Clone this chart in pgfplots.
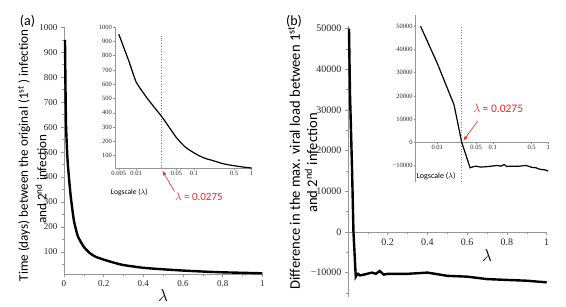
\documentclass[border=0pt]{standalone}
\usepackage{pgfplots}
\pgfplotsset{compat=1.18}
\usepackage{fontspec}
\setmainfont{Liberation Serif}
\newfontfamily\carlito{Carlito}
\definecolor{axgray}{RGB}{150,150,150}
\definecolor{lamred}{RGB}{228,40,40}
\definecolor{dotred}{RGB}{238,90,90}
\pgfplotsset{
  mapleaxis/.style={
    scale only axis,
    anchor=south west,
    clip=false,
    axis line style={axgray, line width=0.7pt},
    every tick/.style={axgray, line width=0.5pt},
    major tick length=3pt,
    minor tick length=1.8pt,
    tick align=outside,
    /pgf/number format/assume math mode=true,
    scaled ticks=false,
    tick label style={text=black!85},
  },
}
\pgfplotstableread{
x y
0.005 950
0.0075 760
0.01 615
0.015 510
0.02 445
0.0275 375
0.035 315
0.05 225
0.07 162
0.1 120
0.13 95
0.16 80
0.2 69
0.25 57
0.3 47
0.4 36
0.5 30
0.6 25
0.7 21
0.8 18
0.9 16
1 14
}\dataA
\pgfplotstableread{
x y
0.005 50000
0.01 34000
0.02 16200
0.0275 0
0.039 -11000
0.045 -10500
0.05 -10300
0.06 -10700
0.08 -10500
0.12 -10000
0.14 -10300
0.16 -9600
0.18 -10500
0.2 -10300
0.3 -10300
0.4 -10000
0.5 -10800
0.6 -11000
0.7 -11600
0.8 -11800
0.9 -12000
1 -12400
}\dataB
\begin{document}
\begin{tikzpicture}
\path[use as bounding box] (0pt,0pt) rectangle (566pt,306pt);
% ---------------- panel (a) main
\begin{axis}[mapleaxis, at={(64pt,31.7pt)}, width=198.3pt, height=247pt,
  xmin=0, xmax=1, ymin=10, ymax=1000,
  axis x line*=bottom, axis y line*=left,
  xtick={0,0.2,0.4,0.6,0.8,1}, xticklabels={0,0.2,0.4,0.6,0.8,1},
  minor xtick={0.1,0.3,0.5,0.7,0.9},
  ytick={100,200,...,1000}, yticklabels={100,200,300,400,500,600,700,800,900,1000},
  minor ytick={50,150,...,950},
  tick label style={font=\fontsize{9}{9}\selectfont},
]
\addplot[black, line width=2.4pt, smooth, tension=0.3] table[x=x,y=y] {\dataA};
\node[font=\fontsize{16}{16}\selectfont] at (axis cs:0.5,-75) {$\lambda$};
\end{axis}
% ---------------- panel (a) inset
\begin{axis}[mapleaxis, at={(115pt,138pt)}, width=136.7pt, height=141pt,
  xmode=log, xmin=0.0043, xmax=1, ymin=14, ymax=1000,
  axis x line*=bottom, axis y line*=left,
  major tick length=2pt,
  xtick={0.005,0.01,0.05,0.1,0.5,1}, xticklabels={0.005,0.01,0.05,0.1,0.5,1},
  minor xtick={},
  ytick={100,200,...,1000}, yticklabels={100,200,300,400,500,600,700,800,900,1000},
  tick label style={font=\fontsize{6.5}{6.5}\selectfont},
  xticklabel style={inner sep=1pt},
  yticklabel style={inner sep=1pt},
]
\addplot[color=dotred, dotted, line width=0.7pt] coordinates {(0.0275,14) (0.0275,940)};
\addplot[black, line width=1.2pt, smooth, tension=0.3] table[x=x,y=y] {\dataA};
\draw[lamred, line width=0.6pt, -{latex}] (axis cs:0.046,-150) -- (axis cs:0.0285,-5);
\node[lamred, anchor=west, font=\carlito\fontsize{11}{11}\selectfont, inner sep=0pt] at (axis cs:0.047,-185) {$\lambda$ = 0.0275};
\node[anchor=west, font=\carlito\fontsize{7.5}{7.5}\selectfont, inner sep=0pt] at (axis description cs:-0.031,-0.175) {Logscale ($\lambda$)};
\end{axis}
% ---------------- panel (b) main
\begin{axis}[mapleaxis, at={(348pt,9pt)}, width=198.7pt, height=270.5pt,
  xmin=0, xmax=1, ymin=-16000, ymax=50500,
  axis x line*=middle, axis y line*=left,
  xtick={0.2,0.4,0.6,0.8,1}, xticklabels={0.2,0.4,0.6,0.8,1},
  minor xtick={0.1,0.3,0.5,0.7,0.9},
  ytick={-10000,0,10000,20000,30000,40000,50000},
  yticklabels={−10000,0,10000,20000,30000,40000,50000},
  minor ytick={-15000,-5000,5000,15000,25000,35000,45000},
  tick label style={font=\fontsize{10}{10}\selectfont},
]
\addplot[black, line width=2.4pt] table[x=x,y=y] {\dataB};
\node[font=\fontsize{16}{16}\selectfont] at (axis cs:0.7,-5730) {$\lambda$};
\end{axis}
% ---------------- panel (b) inset
\begin{axis}[mapleaxis, at={(415.7pt,124.3pt)}, width=132.6pt, height=167pt,
  xmode=log, xmin=0.00408, xmax=1, ymin=-17000, ymax=55000,
  axis x line*=middle, axis y line*=left,
  major tick length=2pt,
  xtick={0.01,0.05,0.1,0.5,1}, xticklabels={0.01,0.05,0.1,0.5,1},
  minor xtick={},
  ytick={-10000,0,10000,20000,30000,40000,50000},
  yticklabels={−10000,0,10000,20000,30000,40000,50000},
  tick label style={font=\fontsize{6.5}{6.5}\selectfont},
  xticklabel style={inner sep=1pt},
  yticklabel style={inner sep=1pt},
]
\addplot[color=dotred, dotted, line width=0.7pt] coordinates {(0.0275,-17000) (0.0275,50500)};
\addplot[black, line width=1.2pt] table[x=x,y=y] {\dataB};
\draw[lamred, line width=0.6pt, -{latex}] (axis cs:0.054,9300) -- (axis cs:0.0295,700);
\node[lamred, font=\carlito\fontsize{11.5}{11.5}\selectfont, inner sep=0pt] at (axis cs:0.125,14500) {$\lambda$ = 0.0275};
\node[anchor=west, font=\carlito\fontsize{8}{8}\selectfont, inner sep=0pt] at (axis description cs:0.005,0.03) {Logscale ($\lambda$)};
\end{axis}
% ---------------- labels
\node[rotate=90, font=\carlito\fontsize{13.1}{13.1}\selectfont, inner sep=0pt] at (24pt,150.5pt) {Time (days) between the original (1\textsuperscript{st} ) infection};
\node[rotate=90, font=\carlito\fontsize{13.1}{13.1}\selectfont, inner sep=0pt] at (41pt,127pt) {and 2\textsuperscript{nd} infection};
\node[rotate=90, font=\carlito\fontsize{14.6}{14.6}\selectfont, inner sep=0pt] at (294pt,148pt) {Difference in the max. viral load between 1\textsuperscript{st}};
\node[rotate=90, font=\carlito\fontsize{14.6}{14.6}\selectfont, inner sep=0pt] at (311pt,143pt) {and 2\textsuperscript{nd} infection};
\node[font=\carlito\fontsize{14}{14}\selectfont, inner sep=0pt] at (27.5pt,284.5pt) {(a)};
\node[font=\carlito\fontsize{14}{14}\selectfont, inner sep=0pt] at (294pt,284.5pt) {(b)};
\end{tikzpicture}
\end{document}
